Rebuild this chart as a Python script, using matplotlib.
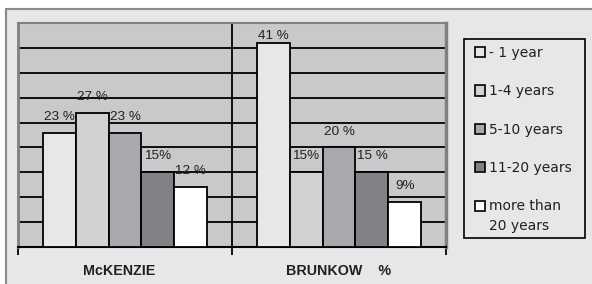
import matplotlib
matplotlib.use("Agg")
import matplotlib.pyplot as plt
import numpy as np
from matplotlib.patches import Rectangle, Patch

plt.rcParams['font.family'] = ['Liberation Sans', 'DejaVu Sans']

groups = ["McKENZIE   ", "BRUNKOW    %"]
periods = ["- 1 year", "1-4 years", "5-10 years", "11-20 years", "more than\n20 years"]
mckenzie = [23, 27, 23, 15, 12]
brunkow = [41, 15, 20, 15, 9]
mckenzie_lbl = ["23 %", "27 %", "23 %", "15%", "12 %"]
brunkow_lbl = ["41 %", "15%", "20 %", "15 %", "9%"]
colors = ['#e6e7e8', '#d1d2d4', '#a7a9ac', '#808285', '#ffffff']

fig = plt.figure(figsize=(5.92, 2.84), dpi=100)
fig.patch.set_facecolor('white')
# outer grey panel
fig.patches.append(Rectangle((6/592, -0.05), 1.0, 0.05 + (284-9)/284, transform=fig.transFigure,
                             facecolor='#e6e7e8', edgecolor='#8a8a8a', lw=1.5, zorder=-5))
# legend box
fig.patches.append(Rectangle((464/592, (284-238)/284), 121/592, 199/284, transform=fig.transFigure,
                             facecolor='#e6e7e8', edgecolor='black', lw=1.2, zorder=-4))

ax = fig.add_axes([18/592, 37/284, 428/592, 224/284])
ax.set_zorder(2)
ax.set_facecolor('#c8c9cb')
ax.set_xlim(-0.5, 1.5)
ax.set_ylim(0, 45)

w = 0.154
vals = [mckenzie, brunkow]
lbls = [mckenzie_lbl, brunkow_lbl]
for g in range(2):
    for i in range(5):
        x = g + (i - 2) * w
        v = vals[g][i]
        ax.bar(x, v, width=w, color=colors[i], edgecolor='black', lw=1.3, zorder=3)
        ax.text(x, min(v + 3.2, 42.3), lbls[g][i], ha='center', va='center',
                fontsize=9.7, color='#231f20', zorder=4)

for y in range(5, 45, 5):
    ax.axhline(y, color='black', lw=1.3, zorder=1)
ax.axvline(0.5, color='black', lw=1.3, zorder=1)

ax.set_yticks([])
ax.set_xticks([-0.5, 0.5, 1.5])
ax.set_xticklabels([])
ax.tick_params(axis='x', which='major', length=6, width=1.3, color='black', direction='out')
ax.set_xticks([0, 1], minor=True)
ax.set_xticklabels(groups, minor=True, fontsize=10.3, color='#231f20', fontweight='bold')
ax.tick_params(axis='x', which='minor', length=0, pad=12)

ax.spines['left'].set_color('#808080'); ax.spines['left'].set_linewidth(2)
ax.spines['top'].set_color('#808080'); ax.spines['top'].set_linewidth(1.5)
ax.spines['right'].set_color('#808080'); ax.spines['right'].set_linewidth(2.5)
ax.spines['bottom'].set_color('black'); ax.spines['bottom'].set_linewidth(1.5)

handles = [Patch(facecolor=c, edgecolor='black', lw=1.2) for c in colors]
leg = fig.legend(handles, periods, loc='upper left',
                 bbox_to_anchor=(475/592, (284-46)/284),
                 prop={'family': 'DejaVu Sans', 'size': 10},
                 frameon=False,
                 handlelength=0.75, handleheight=0.75, handletextpad=0.25,
                 labelspacing=1.75, borderpad=0, borderaxespad=0)
for t in leg.get_texts():
    t.set_color('#231f20')
    t.set_linespacing(1.55)
# put the last marker on the first line of its two-line label
last = leg.legend_handles[-1]
last.set_y(last.get_y() + 7.6)

plt.savefig('out.png', dpi=100)
